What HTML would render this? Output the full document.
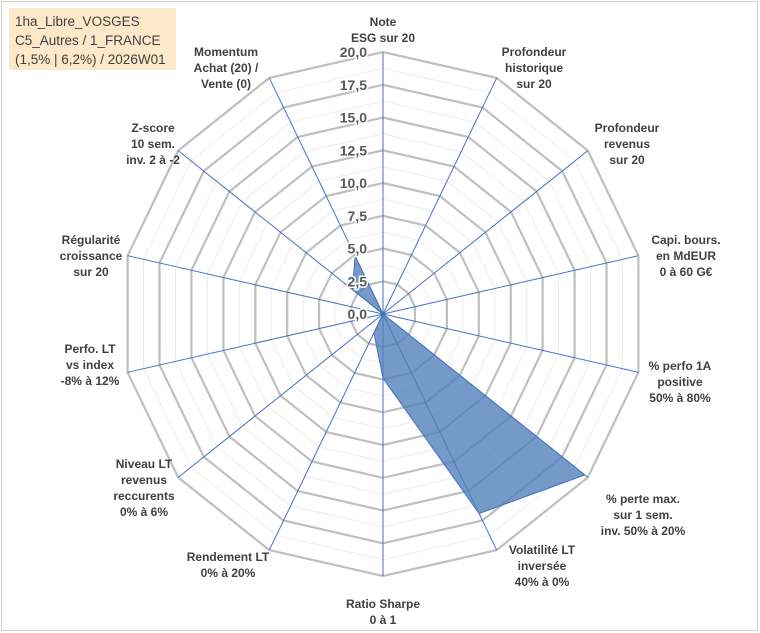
<!DOCTYPE html>
<html><head><meta charset="utf-8"><style>
body{margin:0;background:#fff;}
#wrap{position:relative;width:760px;height:633px;overflow:hidden;font-family:"Liberation Sans",Arial,sans-serif;}
svg text{font-family:"Liberation Sans",Arial,sans-serif;}
</style></head><body>
<div id="wrap">
<svg id="chart" width="760" height="633">
<rect x="1.5" y="1.5" width="756" height="629" fill="#fff" stroke="#d0d0d0"/>
<rect x="9" y="8" width="167" height="62" fill="#fde9c9"/>
<text x="15" y="26" font-size="13.5" fill="#404040">1ha_Libre_VOSGES</text>
<text x="15" y="45" font-size="13.5" fill="#404040">C5_Autres / 1_FRANCE</text>
<text x="15" y="64" font-size="13.5" fill="#404040">(1,5% | 6,2%) / 2026W01</text>
<g id="grid"></g><g id="series"></g><g id="ticks"></g><g id="labels"></g>
</svg>
</div>
<script>
const categories=[["Note","ESG sur 20"],["Profondeur","historique","sur 20"],["Profondeur","revenus","sur 20"],["Capi. bours.","en MdEUR","0 à 60 G€"],["% perfo 1A","positive","50% à 80%"],["% perte max.","sur 1 sem.","inv. 50% à 20%"],["Volatilité LT","inversée","40% à 0%"],["Ratio Sharpe","0 à 1"],["Rendement LT","0% à 20%"],["Niveau LT","revenus","reccurents","0% à 6%"],["Perfo. LT","vs index","-8% à 12%"],["Régularité","croissance","sur 20"],["Z-score","10 sem.","inv. 2 à -2"],["Momentum","Achat (20) /","Vente (0)"]];
const values=[0,0,0,0,0,19.7,16.9,4.9,1.6,0,0,0,3,4.9];
const tickValues=[0,2.5,5,7.5,10,12.5,15,17.5,20];
const tickLabels=["0,0","2,5","5,0","7,5","10,0","12,5","15,0","17,5","20,0"];
const labelPos=[[383,14],[534,44],[627,120],[686,232],[680,358],[643,491],[542,542],[383,596],[228,549],[144,456],[90,341],[91,232],[153,120],[226,44]];
const NS="http://www.w3.org/2000/svg";
const cx=383,cy=314,R=262,maxV=20,N=categories.length;
function ang(i){return i*2*Math.PI/N;}
function px(i,v){return cx+Math.sin(ang(i))*v/maxV*R;}
function py(i,v){return cy-Math.cos(ang(i))*v/maxV*R;}
function mk(tag,attrs,parent){const e=document.createElementNS(NS,tag);for(const k in attrs)e.setAttribute(k,attrs[k]);parent.appendChild(e);return e;}
const grid=document.getElementById('grid');
for(let k=1;k<=16;k++){const v=k*1.25;const pts=[];for(let i=0;i<N;i++)pts.push(px(i,v).toFixed(1)+","+py(i,v).toFixed(1));
const major=k%2==0;
const p=mk('polygon',{points:pts.join(' '),fill:'none',stroke:major?'#bfbfbf':'#ececec','stroke-width':major?2.2:1},grid);

}
for(let i=0;i<N;i++){const l=mk('line',{x1:cx,y1:cy,x2:px(i,maxV),y2:py(i,maxV),stroke:'#4472c4','stroke-width':1},grid);

}
const series=document.getElementById('series');
const sp=[];for(let i=0;i<N;i++)sp.push(px(i,values[i]).toFixed(1)+","+py(i,values[i]).toFixed(1));
const poly=mk('polygon',{points:sp.join(' '),fill:'#4f7eb7','fill-opacity':0.78,stroke:'#4472c4','stroke-width':1},series);


const ticks=document.getElementById('ticks');
for(let k=0;k<tickValues.length;k++){const t=mk('text',{x:367,y:cy-tickValues[k]/maxV*R+5,'text-anchor':'end','font-size':14,'font-weight':'bold',fill:'#595959',stroke:'#ffffff','stroke-width':3,'paint-order':'stroke'},ticks);t.textContent=tickLabels[k];

}
const labels=document.getElementById('labels');
for(let i=0;i<N;i++){const g=mk('text',{'text-anchor':'middle','font-size':12,'font-weight':'bold',fill:'#404040'},labels);


categories[i].forEach((s,j)=>{const ts=mk('tspan',{x:labelPos[i][0],y:labelPos[i][1]+j*16+12},g);ts.textContent=s;});}
</script>
</body></html>
